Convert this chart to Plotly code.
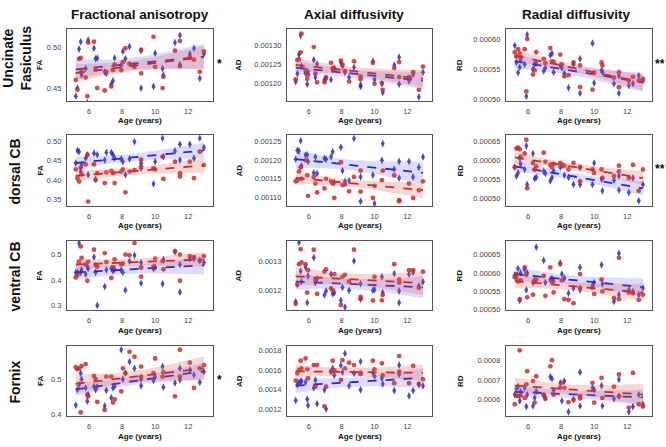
import numpy as np
import plotly.graph_objects as go

# ---------------- data ----------------
ages = [5.2, 5.3, 5.4, 5.5, 5.55, 5.8, 5.9, 5.95, 6.3, 6.4, 6.5, 6.95, 7.05, 7.35, 7.45, 7.55, 7.95,
        8.05, 8.2, 8.45, 8.75, 9.15, 9.15, 9.9, 10.0, 10.45, 10.5, 11.2, 11.5, 11.5, 12.1, 12.35, 12.7, 12.95]

tracts = ["Uncinate<br>Fasiculus", "dorsal CB", "ventral CB", "Fornix"]
measures = ["Fractional anisotropy", "Axial diffusivity", "Radial diffusivity"]
measure_abbr = ["FA", "AD", "RD"]
significance = [["*", "", "**"], ["", "", "**"], ["", "", ""], ["*", "", ""]]

uf_fa_red = [0.460, 0.448, 0.486, 0.487, 0.470, 0.463, 0.440, 0.506, 0.507, 0.473, 0.450, 0.447, 0.470, 0.452,
             0.472, 0.479, 0.472, 0.482, 0.499, 0.480, 0.476, 0.497, 0.468, 0.513, 0.476, 0.450, 0.464, 0.496,
             0.508, 0.477, 0.488, 0.485, 0.470, 0.495]
uf_fa_blue = [0.440, 0.450, 0.498, 0.507, 0.466, 0.474, 0.432, 0.509, 0.499, 0.486, 0.487, 0.470, 0.468, 0.455,
              0.459, 0.487, 0.478, 0.495, 0.486, 0.501, 0.478, 0.450, 0.496, 0.452, 0.493, 0.474, 0.466, 0.506,
              0.515, 0.479, 0.492, 0.499, 0.462, 0.492]
uf_ad_red = [0.001210, 0.001262, 0.001263, 0.001282, 0.001332, 0.001235, 0.001211, 0.001222, 0.001296, 0.001225,
             0.001202, 0.001202, 0.001215, 0.001254, 0.001240, 0.001238, 0.001260, 0.001249, 0.001232, 0.001204,
             0.001258, 0.001210, 0.001218, 0.001254, 0.001198, 0.001200, 0.001182, 0.001240, 0.001256, 0.001216,
             0.001216, 0.001229, 0.001182, 0.001244]
uf_ad_blue = [0.001204, 0.001225, 0.001276, 0.001327, 0.001245, 0.001226, 0.001197, 0.001230, 0.001262, 0.001215,
              0.001251, 0.001209, 0.001212, 0.001209, 0.001236, 0.001240, 0.001255, 0.001245, 0.001229, 0.001215,
              0.001242, 0.001191, 0.001195, 0.001258, 0.001209, 0.001198, 0.001175, 0.001248, 0.001269, 0.001197,
              0.001206, 0.001223, 0.001163, 0.001229]
uf_rd_red = [0.000578, 0.000571, 0.000583, 0.000576, 0.000570, 0.000583, 0.000513, 0.000600, 0.000541, 0.000548,
             0.000578, 0.000567, 0.000560, 0.000585, 0.000563, 0.000562, 0.000574, 0.000558, 0.000538, 0.000540,
             0.000561, 0.000520, 0.000556, 0.000516, 0.000544, 0.000561, 0.000556, 0.000536, 0.000545, 0.000520,
             0.000531, 0.000537, 0.000531, 0.000534]
uf_rd_blue = [0.000589, 0.000561, 0.000544, 0.000553, 0.000565, 0.000558, 0.000505, 0.000607, 0.000550, 0.000558,
              0.000560, 0.000547, 0.000552, 0.000573, 0.000576, 0.000545, 0.000556, 0.000552, 0.000543, 0.000519,
              0.000558, 0.000567, 0.000510, 0.000593, 0.000527, 0.000548, 0.000545, 0.000526, 0.000539, 0.000510,
              0.000523, 0.000526, 0.000539, 0.000531]

dcb_fa_red = [0.428, 0.405, 0.396, 0.432, 0.415, 0.441, 0.466, 0.344, 0.441, 0.400, 0.418, 0.392, 0.420, 0.424,
              0.418, 0.392, 0.422, 0.428, 0.368, 0.422, 0.426, 0.453, 0.435, 0.431, 0.428, 0.461, 0.403, 0.448,
              0.418, 0.409, 0.448, 0.405, 0.474, 0.439]
dcb_fa_blue = [0.444, 0.477, 0.474, 0.422, 0.440, 0.457, 0.466, 0.414, 0.470, 0.402, 0.466, 0.452, 0.472, 0.472,
               0.466, 0.457, 0.455, 0.448, 0.414, 0.455, 0.500, 0.444, 0.431, 0.390, 0.448, 0.509, 0.461, 0.476,
               0.493, 0.452, 0.493, 0.457, 0.509, 0.485]
dcb_ad_red = [0.001143, 0.001146, 0.001170, 0.001181, 0.001150, 0.001200, 0.001159, 0.001104, 0.001155, 0.001137,
              0.001113, 0.001124, 0.001150, 0.001143, 0.001137, 0.001098, 0.001195, 0.001133, 0.001135, 0.001116,
              0.001155, 0.001172, 0.001115, 0.001098, 0.001131, 0.001146, 0.001172, 0.001159, 0.001089, 0.001092,
              0.001137, 0.001098, 0.001119, 0.001143]
dcb_ad_blue = [0.001203, 0.001227, 0.001225, 0.001253, 0.001185, 0.001214, 0.001215, 0.001197, 0.001166, 0.001209,
               0.001164, 0.001205, 0.001203, 0.001209, 0.001223, 0.001140, 0.001235, 0.001172, 0.001143, 0.001145,
               0.001259, 0.001155, 0.001089, 0.001160, 0.001083, 0.001200, 0.001245, 0.001176, 0.001152, 0.001197,
               0.001197, 0.001155, 0.001181, 0.001209]
dcb_rd_red = [0.000581, 0.000630, 0.000632, 0.000628, 0.000609, 0.000617, 0.000653, 0.000526, 0.000592, 0.000575,
              0.000583, 0.000619, 0.000595, 0.000587, 0.000581, 0.000590, 0.000592, 0.000587, 0.000585, 0.000575,
              0.000592, 0.000581, 0.000544, 0.000575, 0.000566, 0.000575, 0.000553, 0.000558, 0.000585, 0.000570,
              0.000553, 0.000587, 0.000519, 0.000575]
dcb_rd_blue = [0.000581, 0.000558, 0.000566, 0.000604, 0.000590, 0.000575, 0.000637, 0.000536, 0.000617, 0.000551,
               0.000555, 0.000570, 0.000565, 0.000545, 0.000554, 0.000572, 0.000581, 0.000585, 0.000560, 0.000554,
               0.000536, 0.000580, 0.000536, 0.000536, 0.000592, 0.000550, 0.000519, 0.000547, 0.000558, 0.000521,
               0.000515, 0.000553, 0.000493, 0.000536]

vcb_fa_red = [0.410, 0.420, 0.472, 0.532, 0.487, 0.461, 0.397, 0.472, 0.519, 0.460, 0.452, 0.506, 0.470, 0.408,
              0.450, 0.481, 0.461, 0.465, 0.500, 0.497, 0.545, 0.413, 0.449, 0.452, 0.484, 0.474, 0.442, 0.513,
              0.500, 0.397, 0.494, 0.490, 0.477, 0.494]
vcb_fa_blue = [0.429, 0.430, 0.545, 0.429, 0.440, 0.423, 0.452, 0.445, 0.490, 0.430, 0.300, 0.374, 0.440, 0.445,
               0.436, 0.442, 0.439, 0.430, 0.360, 0.474, 0.497, 0.387, 0.468, 0.445, 0.450, 0.385, 0.481, 0.510,
               0.352, 0.461, 0.484, 0.484, 0.477, 0.468]
vcb_ad_red = [0.001153, 0.001220, 0.001291, 0.001343, 0.001297, 0.001291, 0.001192, 0.001270, 0.001341, 0.001238,
              0.001188, 0.001265, 0.001273, 0.001207, 0.001200, 0.001256, 0.001149, 0.001247, 0.001254, 0.001230,
              0.001341, 0.001177, 0.001170, 0.001165, 0.001247, 0.001165, 0.001184, 0.001291, 0.001238, 0.001227,
              0.001270, 0.001270, 0.001209, 0.001265]
vcb_ad_blue = [0.001160, 0.001221, 0.001366, 0.001267, 0.001230, 0.001281, 0.001157, 0.001250, 0.001314, 0.001227,
               0.001240, 0.001184, 0.001198, 0.001256, 0.001188, 0.001192, 0.001165, 0.001210, 0.001142, 0.001200,
               0.001302, 0.001169, 0.001223, 0.001200, 0.001203, 0.001247, 0.001192, 0.001258, 0.001157, 0.001198,
               0.001256, 0.001262, 0.001215, 0.001230]
vcb_rd_red = [0.000588, 0.000597, 0.000577, 0.000529, 0.000580, 0.000615, 0.000595, 0.000534, 0.000541, 0.000577,
              0.000582, 0.000592, 0.000538, 0.000615, 0.000577, 0.000547, 0.000624, 0.000580, 0.000529, 0.000527,
              0.000518, 0.000597, 0.000560, 0.000560, 0.000543, 0.000582, 0.000550, 0.000532, 0.000641, 0.000529,
              0.000547, 0.000545, 0.000527, 0.000541]
vcb_rd_blue = [0.000594, 0.000588, 0.000612, 0.000525, 0.000600, 0.000609, 0.000554, 0.000600, 0.000574, 0.000580,
               0.000670, 0.000634, 0.000574, 0.000582, 0.000585, 0.000578, 0.000627, 0.000597, 0.000586, 0.000545,
               0.000559, 0.000615, 0.000554, 0.000566, 0.000574, 0.000622, 0.000570, 0.000523, 0.000653, 0.000541,
               0.000554, 0.000550, 0.000541, 0.000559]

fx_fa_red = [0.534, 0.528, 0.531, 0.405, 0.537, 0.543, 0.456, 0.451, 0.509, 0.500, 0.435, 0.412, 0.507, 0.507,
             0.433, 0.442, 0.465, 0.531, 0.517, 0.578, 0.564, 0.536, 0.507, 0.517, 0.559, 0.507, 0.520, 0.451,
             0.584, 0.507, 0.547, 0.475, 0.531, 0.540]
fx_fa_blue = [0.426, 0.470, 0.484, 0.517, 0.500, 0.475, 0.437, 0.456, 0.479, 0.470, 0.479, 0.423, 0.468, 0.447,
              0.475, 0.480, 0.584, 0.500, 0.517, 0.550, 0.531, 0.481, 0.500, 0.496, 0.507, 0.536, 0.477, 0.489,
              0.498, 0.531, 0.526, 0.512, 0.491, 0.521]
fx_ad_red = [0.001495, 0.001570, 0.001603, 0.001698, 0.001620, 0.001722, 0.001610, 0.001519, 0.001654, 0.001434,
             0.001654, 0.001230, 0.001434, 0.001586, 0.001698, 0.001600, 0.001502, 0.001705, 0.001620, 0.001678,
             0.001654, 0.001576, 0.001560, 0.001698, 0.001610, 0.001671, 0.001550, 0.001468, 0.001746, 0.001586,
             0.001468, 0.001644, 0.001461, 0.001508]
fx_ad_blue = [0.001292, 0.001451, 0.001475, 0.001485, 0.001490, 0.001480, 0.001305, 0.001241, 0.001420, 0.001500,
              0.001258, 0.001400, 0.001203, 0.001586, 0.001620, 0.001550, 0.001650, 0.001580, 0.001773, 0.001441,
              0.001569, 0.001400, 0.001690, 0.001576, 0.001540, 0.001519, 0.001461, 0.001393, 0.001654, 0.001560,
              0.001339, 0.001393, 0.001451, 0.001441]
fx_rd_red = [0.000575, 0.000620, 0.000617, 0.000854, 0.000620, 0.000608, 0.000678, 0.000746, 0.000695, 0.000583,
             0.000720, 0.000625, 0.000603, 0.000771, 0.000803, 0.000625, 0.000661, 0.000686, 0.000660, 0.000586,
             0.000597, 0.000617, 0.000605, 0.000686, 0.000583, 0.000712, 0.000608, 0.000666, 0.000729, 0.000617,
             0.000558, 0.000737, 0.000575, 0.000563]
fx_rd_blue = [0.000625, 0.000654, 0.000668, 0.000592, 0.000640, 0.000660, 0.000563, 0.000625, 0.000566, 0.000608,
              0.000642, 0.000620, 0.000610, 0.000717, 0.000707, 0.000647, 0.000686, 0.000592, 0.000695, 0.000536,
              0.000600, 0.000741, 0.000566, 0.000660, 0.000650, 0.000671, 0.000566, 0.000603, 0.000703, 0.000617,
              0.000536, 0.000563, 0.000625, 0.000576]

red_series = [[uf_fa_red, uf_ad_red, uf_rd_red], [dcb_fa_red, dcb_ad_red, dcb_rd_red],
              [vcb_fa_red, vcb_ad_red, vcb_rd_red], [fx_fa_red, fx_ad_red, fx_rd_red]]
blue_series = [[uf_fa_blue, uf_ad_blue, uf_rd_blue], [dcb_fa_blue, dcb_ad_blue, dcb_rd_blue],
               [vcb_fa_blue, vcb_ad_blue, vcb_rd_blue], [fx_fa_blue, fx_ad_blue, fx_rd_blue]]

x_ticks = [6, 8, 10, 12]
y_ticks = [[[0.45, 0.50], [0.0012, 0.00125, 0.0013], [0.0005, 0.00055, 0.0006]],
           [[0.35, 0.40, 0.45, 0.50], [0.0011, 0.00115, 0.0012, 0.00125], [0.0005, 0.00055, 0.0006, 0.00065]],
           [[0.3, 0.4, 0.5], [0.0012, 0.0013], [0.0005, 0.00055, 0.0006, 0.00065]],
           [[0.4, 0.5], [0.0012, 0.0014, 0.0016, 0.0018], [0.0006, 0.0007, 0.0008]]]

# ---------------- layout / style ----------------
W, H = 666, 447
col_px = [(67, 213), (287, 432), (506, 652)]
row_px = [(29, 102), (136, 208), (243, 313), (349, 420)]
y_ranges = [[(0.434, 0.523), (0.001152, 0.001345), (0.000497, 0.000617)],
            [(0.332, 0.518), (0.001076, 0.001269), (0.000479, 0.000666)],
            [(0.281, 0.554), (0.001131, 0.001372), (0.000499, 0.000687)],
            [(0.394, 0.595), (0.00113, 0.00185), (0.000513, 0.000877)]]
y_formats = [[".2f", ".5f", ".5f"], [".2f", ".5f", ".5f"], [".1f", ".4f", ".5f"], [".1f", ".4f", ".4f"]]
x_range = (4.67, 13.5)

RED = "#d02a2a"
BLUE = "#2828d0"
RED_BAND = "rgba(225,90,90,0.25)"
BLUE_BAND = "rgba(100,100,235,0.22)"
FONT = "Liberation Sans, Arial, sans-serif"


def px_x(p):
    return p / W


def px_y(p):
    return 1 - p / H


def regression(x, y, n_grid=60):
    x = np.asarray(x, float)
    y = np.asarray(y, float)
    b, a = np.polyfit(x, y, 1)
    n = len(x)
    resid = y - (a + b * x)
    s = np.sqrt(np.sum(resid ** 2) / (n - 2))
    xm = x.mean()
    sxx = np.sum((x - xm) ** 2)
    grid = np.linspace(x.min(), x.max(), n_grid)
    pred = a + b * grid
    se = s * np.sqrt(1.0 / n + (grid - xm) ** 2 / sxx)
    t = 2.037
    return grid, pred, pred - t * se, pred + t * se


fig = go.Figure()
annotations = []

for r in range(4):
    for c in range(3):
        k = r * 3 + c + 1
        xa = "x" if k == 1 else f"x{k}"
        ya = "y" if k == 1 else f"y{k}"
        for vals, col, band, sym, size in [
            (blue_series[r][c], BLUE, BLUE_BAND, "diamond-tall", 5.5),
            (red_series[r][c], RED, RED_BAND, "circle", 4.8),
        ]:
            fig.add_trace(go.Scatter(x=ages, y=vals, mode="markers", xaxis=xa, yaxis=ya,
                                     marker=dict(color=col, symbol=sym, size=size, opacity=0.85,
                                                 line=dict(width=0)),
                                     showlegend=False, hoverinfo="skip"))
            g, p, lo, hi = regression(ages, vals)
            fig.add_trace(go.Scatter(x=np.concatenate([g, g[::-1]]), y=np.concatenate([hi, lo[::-1]]),
                                     fill="toself", fillcolor=band, line=dict(width=0), mode="lines",
                                     xaxis=xa, yaxis=ya, showlegend=False, hoverinfo="skip"))
            fig.add_trace(go.Scatter(x=g, y=p, mode="lines", xaxis=xa, yaxis=ya,
                                     line=dict(color=col, width=1.8, dash="dash"),
                                     showlegend=False, hoverinfo="skip"))

        x0, x1 = col_px[c]
        y0, y1 = row_px[r]
        axis_common = dict(showgrid=False, zeroline=False, showline=True, mirror=True,
                           linecolor="#555555", linewidth=1.2, ticks="outside", ticklen=3,
                           tickcolor="rgba(0,0,0,0)",
                           tickfont=dict(family=FONT, size=7.5, color="#444444"))
        fig.layout[("xaxis" if k == 1 else f"xaxis{k}")] = dict(
            domain=[px_x(x0), px_x(x1)], range=list(x_range), anchor=ya,
            tickvals=x_ticks, **axis_common)
        fig.layout[("yaxis" if k == 1 else f"yaxis{k}")] = dict(
            domain=[px_y(y1), px_y(y0)], range=list(y_ranges[r][c]), anchor=xa,
            tickvals=y_ticks[r][c], tickformat=y_formats[r][c], **axis_common)

        annotations.append(dict(text="<b>Age (years)</b>", x=px_x((x0 + x1) / 2), y=px_y(y1 + 20),
                                xref="paper", yref="paper", showarrow=False,
                                font=dict(family=FONT, size=8, color="#111111"),
                                xanchor="center", yanchor="middle"))
        lab_x = [40, 239, 460][c]
        annotations.append(dict(text=f"<b>{measure_abbr[c]}</b>", x=px_x(lab_x), y=px_y((y0 + y1) / 2),
                                xref="paper", yref="paper", showarrow=False, textangle=-90,
                                font=dict(family=FONT, size=8, color="#111111"),
                                xanchor="center", yanchor="middle"))
        if significance[r][c]:
            sx = x1 + 6 if len(significance[r][c]) == 1 else x1 + 8
            annotations.append(dict(text=f"<b>{significance[r][c]}</b>", x=px_x(sx),
                                    y=px_y((y0 + y1) / 2 - 1), xref="paper", yref="paper",
                                    showarrow=False, font=dict(family=FONT, size=12, color="#111111"),
                                    xanchor="center", yanchor="middle"))

for c, (t, cx) in enumerate(zip(measures, [140, 354, 576])):
    annotations.append(dict(text=f"<b>{t}</b>", x=px_x(cx), y=px_y(15), xref="paper", yref="paper",
                            showarrow=False, font=dict(family=FONT, size=13.5, color="#111111"),
                            xanchor="center", yanchor="middle"))

for r, (t, cx, cy) in enumerate(zip(tracts, [17, 15, 15, 15], [59, 173, 279, 386])):
    annotations.append(dict(text=f"<b>{t}</b>", x=px_x(cx), y=px_y(cy), xref="paper", yref="paper",
                            showarrow=False, textangle=-90,
                            font=dict(family=FONT, size=14, color="#111111"),
                            xanchor="center", yanchor="middle"))

fig.update_layout(width=W, height=H, margin=dict(l=0, r=0, t=0, b=0),
                  paper_bgcolor="white", plot_bgcolor="white",
                  annotations=annotations, showlegend=False)

fig.write_html("out.html", config={"displayModeBar": False},
               post_script="document.body.style.margin='0';document.body.style.overflow='hidden';")
